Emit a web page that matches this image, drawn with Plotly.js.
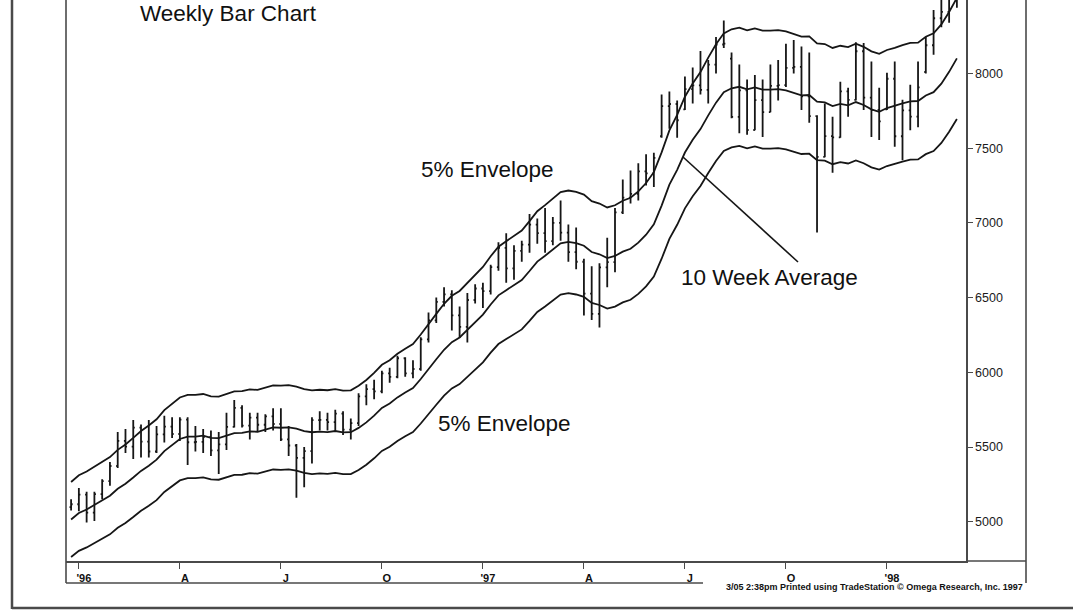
<!DOCTYPE html>
<html><head><meta charset="utf-8">
<script src="https://cdn.plot.ly/plotly-3.0.1.min.js"></script>
<style>html,body{margin:0;padding:0;background:#fff}#chart{width:1073px;height:611px}</style>
</head><body><div id="chart"></div>
<script>
// Weekly bars (week ending Friday)
const weeks = [
"1995-12-29",
"1996-01-05","1996-01-12","1996-01-19","1996-01-26","1996-02-02","1996-02-09","1996-02-16","1996-02-23","1996-03-01","1996-03-08",
"1996-03-15","1996-03-22","1996-03-29","1996-04-05","1996-04-12","1996-04-19","1996-04-26","1996-05-03","1996-05-10","1996-05-17",
"1996-05-24","1996-05-31","1996-06-07","1996-06-14","1996-06-21","1996-06-28","1996-07-05","1996-07-12","1996-07-19","1996-07-26",
"1996-08-02","1996-08-09","1996-08-16","1996-08-23","1996-08-30","1996-09-06","1996-09-13","1996-09-20","1996-09-27","1996-10-04",
"1996-10-11","1996-10-18","1996-10-25","1996-11-01","1996-11-08","1996-11-15","1996-11-22","1996-11-29","1996-12-06","1996-12-13",
"1996-12-20","1996-12-27",
"1997-01-03","1997-01-10","1997-01-17","1997-01-24","1997-01-31","1997-02-07","1997-02-14","1997-02-21","1997-02-28","1997-03-07",
"1997-03-14","1997-03-21","1997-03-28","1997-04-04","1997-04-11","1997-04-18","1997-04-25","1997-05-02","1997-05-09","1997-05-16",
"1997-05-23","1997-05-30","1997-06-06","1997-06-13","1997-06-20","1997-06-27","1997-07-04","1997-07-11","1997-07-18","1997-07-25",
"1997-08-01","1997-08-08","1997-08-15","1997-08-22","1997-08-29","1997-09-05","1997-09-12","1997-09-19","1997-09-26","1997-10-03",
"1997-10-10","1997-10-17","1997-10-24","1997-10-31","1997-11-07","1997-11-14","1997-11-21","1997-11-28","1997-12-05","1997-12-12",
"1997-12-19","1997-12-26",
"1998-01-02","1998-01-09","1998-01-16","1998-01-23","1998-01-30","1998-02-06","1998-02-13","1998-02-20","1998-02-27","1998-03-06"
];

const openPx = [
5097,5117,5181,5061,5184,5271,5373,5541,5503,5630,
5536,5470,5584,5636,5587,5683,5532,5535,5567,5478,
5518,5635,5762,5643,5697,5649,5705,5654,5551,5510,
5427,5473,5680,5681,5667,5723,5616,5660,5839,5888,
5872,5993,5970,6094,5993,6022,6220,6348,6472,6522,
6381,6304,6484,6561,6544,6704,6833,6696,6813,6855,
6988,6931,6878,7000,6935,6804,6740,6527,6391,6703,
6738,7071,7169,7194,7345,7331,7580,7782,7796,7760,
7896,7921,7890,8060,8194,8100,7710,7887,7622,7822,
7742,7917,7922,8038,8045,7847,7715,7442,7581,7572,
7881,7823,8149,7838,7756,7760,7965,7580,7753,7712,
8010,8189,8370,8413,8546
];
const highPx = [
5150,5225,5200,5200,5285,5400,5600,5620,5680,5650,
5680,5640,5710,5700,5700,5700,5640,5620,5610,5600,
5730,5815,5780,5730,5730,5720,5760,5760,5640,5520,
5500,5700,5740,5730,5750,5740,5690,5860,5920,5950,
6010,6030,6110,6100,6080,6235,6400,6500,6570,6550,
6440,6530,6590,6600,6720,6870,6930,6850,6880,7060,
7030,7100,7040,7150,6990,6970,6760,6710,6730,6900,
7100,7290,7350,7400,7460,7470,7860,7880,7820,7980,
8040,8150,8090,8245,8355,8140,8060,7960,7990,7960,
8060,8090,8200,8225,8180,8140,7720,7800,7710,7945,
7905,8210,8205,8080,7905,8005,8080,7825,7925,8080,
8245,8425,8520,8580,8620
];
const lowPx = [
5075,5070,4995,5005,5150,5240,5360,5460,5420,5430,
5430,5460,5530,5560,5540,5380,5470,5460,5440,5320,
5480,5630,5630,5550,5600,5600,5610,5540,5440,5160,
5230,5390,5610,5610,5600,5580,5550,5640,5780,5820,
5860,5930,5960,5970,5960,6010,6200,6330,6440,6280,
6230,6200,6460,6430,6520,6680,6600,6620,6740,6800,
6860,6800,6850,6880,6740,6690,6380,6350,6300,6570,
6670,7060,7130,7150,7250,7240,7570,7630,7570,7755,
7800,7860,7800,8000,8170,7700,7600,7590,7620,7575,
7740,7820,7910,8000,7755,7670,6935,7440,7335,7570,
7710,7820,7755,7575,7555,7755,7510,7420,7620,7640,
8000,8125,8310,8340,8440
];
const closePx = [
5117,5181,5061,5184,5271,5373,5541,5503,5630,5536,
5470,5584,5636,5587,5683,5532,5535,5567,5478,5518,
5635,5762,5643,5697,5649,5705,5654,5551,5510,5427,
5473,5680,5681,5667,5723,5616,5660,5839,5888,5872,
5993,5970,6094,5993,6022,6220,6348,6472,6522,6381,
6304,6484,6561,6544,6704,6833,6696,6813,6855,6988,
6931,6878,7000,6935,6804,6740,6527,6391,6703,6738,
7071,7169,7194,7345,7331,7435,7782,7796,7687,7896,
7921,7890,8060,8194,8200,7710,7887,7622,7822,7742,
7917,7922,8038,8045,7847,7715,7442,7581,7572,7881,
7823,8149,7838,7756,7679,7965,7580,7753,7712,7907,
8189,8370,8413,8546,8570
];
// 10 week average
const avg10 = [
5015,5058,5082,5114,5142,5174,5220,5254,5296,5340,
5375,5415,5473,5513,5554,5570,5570,5576,5561,5559,
5576,5593,5594,5605,5602,5619,5631,5629,5632,5623,
5607,5599,5603,5600,5607,5598,5599,5628,5665,5710,
5762,5791,5832,5865,5895,5955,6024,6087,6151,6202,
6233,6284,6331,6386,6454,6515,6550,6584,6618,6678,
6741,6780,6824,6863,6873,6864,6847,6805,6790,6765,
6779,6808,6827,6868,6921,6990,7116,7256,7355,7471,
7556,7628,7720,7805,7875,7901,7911,7894,7907,7892,
7892,7895,7887,7872,7854,7856,7811,7807,7782,7796,
7787,7809,7789,7760,7744,7769,7782,7800,7814,7816,
7853,7875,7932,8011,8101
];
const ENVELOPE_PCT = 5;

const tickDates = ["1996-01-05","1996-04-05","1996-07-05","1996-10-04","1997-01-03","1997-04-04","1997-07-04","1997-10-03","1998-01-02"];
const tickLabels = ["'96","A","J","O","'97","A","J","O","'98"];
const yTicks = [5000,5500,6000,6500,7000,7500,8000,8500];
const yTickLabels = ["5000","5500","6000","6500","7000","7500","8000","8500"];

const upper = avg10.map(v => v * (1 + ENVELOPE_PCT / 100));
const lower = avg10.map(v => v * (1 - ENVELOPE_PCT / 100));

const INK = '#161616';
const FRAME = '#4a4a4a';

const lineStyle = {color: INK, width: 1.8};
const traces = [
  {type: 'ohlc', x: weeks, open: openPx, high: highPx, low: lowPx, close: closePx,
   increasing: {line: {color: INK, width: 1.8}}, decreasing: {line: {color: INK, width: 1.8}},
   tickwidth: 0.2, hoverinfo: 'skip', showlegend: false},
  {type: 'scatter', mode: 'lines', x: weeks, y: avg10, line: lineStyle, hoverinfo: 'skip'},
  {type: 'scatter', mode: 'lines', x: weeks, y: upper, line: lineStyle, hoverinfo: 'skip'},
  {type: 'scatter', mode: 'lines', x: weeks, y: lower, line: lineStyle, hoverinfo: 'skip'}
];

// pixel -> paper helpers for the plot area (l=66, t=0, w=900, h=561)
const PX = p => (p - 66) / 900;
const PY = p => (561 - p) / 561;

const txtFont = {family: 'Liberation Sans, Arial, sans-serif', size: 22.5, color: '#111'};
const annotations = [
  {text: 'Weekly Bar Chart', x: PX(138), y: PY(13), xref: 'paper', yref: 'paper', xanchor: 'left', yanchor: 'middle', showarrow: false, font: txtFont},
  {text: '5% Envelope', x: PX(419), y: PY(170), xref: 'paper', yref: 'paper', xanchor: 'left', yanchor: 'middle', showarrow: false, font: txtFont},
  {text: '10 Week Average', x: PX(679), y: PY(277), xref: 'paper', yref: 'paper', xanchor: 'left', yanchor: 'middle', showarrow: false, font: txtFont},
  {text: '5% Envelope', x: PX(436), y: PY(423), xref: 'paper', yref: 'paper', xanchor: 'left', yanchor: 'middle', showarrow: false, font: txtFont},
  {text: '3/05 2:38pm Printed using TradeStation \u00a9 Omega Research, Inc. 1997', x: PX(1025), y: PY(587), xref: 'paper', yref: 'paper', xanchor: 'right', yanchor: 'middle', showarrow: false,
   font: {family: 'Liberation Sans, Arial, sans-serif', size: 9, color: '#111', weight: 'bold'}}
];

const L = (x0, y0, x1, y1, w, c) => ({type: 'line', xref: 'paper', yref: 'paper', x0: PX(x0), y0: PY(y0), x1: PX(x1), y1: PY(y1), line: {color: c || FRAME, width: w || 2}});
const shapes = [
  L(12, -2, 12, 609, 2.5),        // outer left frame
  L(12, 608, 1073, 608, 2.5),     // outer bottom frame
  L(66, -2, 66, 583, 1.6),        // plot left border
  L(1026, -2, 1026, 583, 1.6),    // inner right border
  L(66, 583, 703, 583, 1.6),      // inner bottom border
  L(966, 561, 1026, 561, 1.6),    // x axis line continuation
  L(683, 157, 798, 262, 1.6, INK) // pointer to the average
];

const layout = {
  width: 1073, height: 611,
  margin: {l: 66, r: 107, t: 0, b: 50, pad: 0},
  paper_bgcolor: '#fff', plot_bgcolor: '#fff',
  showlegend: false,
  hovermode: false,
  xaxis: {
    type: 'date', range: ['1995-12-24 10:00', '1998-03-14 05:00'],
    rangeslider: {visible: false},
    showgrid: false, zeroline: false,
    showline: true, linecolor: FRAME, linewidth: 1.6,
    ticks: 'outside', ticklen: 6, tickcolor: FRAME, tickwidth: 1,
    tickmode: 'array', tickvals: tickDates, ticktext: tickLabels,
    ticklabelshift: 5,
    tickfont: {family: 'Liberation Sans, Arial, sans-serif', size: 11, color: '#111', weight: 'bold'}
  },
  yaxis: {
    side: 'right', range: [4737, 8492],
    showgrid: false, zeroline: false,
    showline: true, linecolor: FRAME, linewidth: 1.6,
    ticks: 'outside', ticklen: 5, tickcolor: FRAME, tickwidth: 1,
    tickmode: 'array', tickvals: yTicks, ticktext: yTickLabels,
    tickfont: {family: 'Liberation Sans, Arial, sans-serif', size: 12.5, color: '#1a1a1a'}
  },
  annotations: annotations,
  shapes: shapes
};

Plotly.newPlot('chart', traces, layout, {staticPlot: true, displayModeBar: false});
</script>
</body></html>
